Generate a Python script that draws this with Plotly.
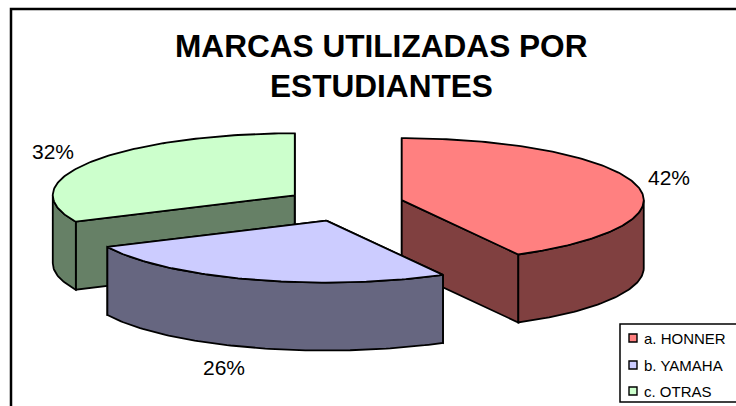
import numpy as np
import plotly.graph_objects as go

CATEGORIES = ["a. HONNER", "b. YAMAHA", "c. OTRAS"]
VALUES = [42, 26, 32]
TOP_COLORS = ["#FF8080", "#CCCCFF", "#CCFFCC"]
SIDE_COLORS = ["#804040", "#666680", "#668066"]
TITLE_LINES = ["MARCAS UTILIZADAS POR", "ESTUDIANTES"]

W, H = 736, 406
CX, CY = 344.6, 204.4      # pie centre in page pixels
RX, RY = 242.0, 62.0       # ellipse radii
DEPTH = 68.0               # height of the pie
EXPLODE_X, EXPLODE_Y = 59.0, 17.0
LABEL_OFFSET = [(33, -7.5), (-28, 20), (-37, -11)]
DRAW_ORDER = [2, 0, 1]
LEGEND_Y = [338, 365, 391]
TITLE_Y = [46, 86]

total = sum(VALUES)
edges = np.concatenate([[0], np.cumsum(VALUES)]) / total * 2 * np.pi


def rim(cx, cy, a):
    return cx + RX * np.sin(a), cy - RY * np.cos(a)


def arc(a0, a1):
    return np.linspace(a0, a1, max(2, int(abs(a1 - a0) * 60)))


fig = go.Figure()
LINE = dict(color="black", width=1.8)


def poly(xs, ys, color):
    fig.add_trace(go.Scatter(
        x=list(xs) + [xs[0]], y=list(ys) + [ys[0]], mode="lines", fill="toself",
        fillcolor=color, line=LINE, hoverinfo="skip", showlegend=False))


centers = []
for i in range(len(VALUES)):
    mid = (edges[i] + edges[i + 1]) / 2
    centers.append((CX + EXPLODE_X * np.sin(mid), CY - EXPLODE_Y * np.cos(mid)))

for i in DRAW_ORDER:
    a0, a1 = edges[i], edges[i + 1]
    cx, cy = centers[i]
    # radial end walls
    for a in (a0, a1):
        px, py = rim(cx, cy, a)
        poly([cx, px, px, cx], [cy, py, py + DEPTH, cy + DEPTH], SIDE_COLORS[i])
    # outer wall, front half only
    lo, hi = max(a0, np.pi / 2), min(a1, 3 * np.pi / 2)
    if hi > lo:
        t = arc(lo, hi)
        x, y = rim(cx, cy, t)
        poly(np.concatenate([x, x[::-1]]), np.concatenate([y, (y + DEPTH)[::-1]]), SIDE_COLORS[i])
    # top face
    t = arc(a0, a1)
    x, y = rim(cx, cy, t)
    poly(np.concatenate([[cx], x]), np.concatenate([[cy], y]), TOP_COLORS[i])

# percentage labels
for i in range(len(VALUES)):
    mid = (edges[i] + edges[i + 1]) / 2
    px, py = rim(*centers[i], mid)
    if np.cos(mid) < 0:
        py += DEPTH
    fig.add_annotation(x=px + LABEL_OFFSET[i][0], y=py + LABEL_OFFSET[i][1],
                       text=f"{round(VALUES[i] / total * 100)}%", showarrow=False,
                       font=dict(family="Liberation Sans", size=21, color="black"))

shapes = [
    dict(type="rect", x0=11, y0=9, x1=745, y1=420, line=dict(color="black", width=2.5), layer="below"),
    dict(type="rect", x0=620, y0=324, x1=745, y1=402, fillcolor="white", line=dict(color="black", width=1.5)),
]
for i, name in enumerate(CATEGORIES):
    shapes.append(dict(type="rect", x0=629, x1=637, y0=LEGEND_Y[i] - 4, y1=LEGEND_Y[i] + 4,
                       fillcolor=TOP_COLORS[i], line=dict(color="black", width=1.4)))
    fig.add_annotation(x=642, y=LEGEND_Y[i], text=name, showarrow=False, xanchor="left",
                       font=dict(family="Liberation Sans", size=15, color="black"))

for line, y in zip(TITLE_LINES, TITLE_Y):
    fig.add_annotation(x=381, y=y, text=f"<b>{line}</b>", showarrow=False,
                       font=dict(family="Liberation Sans", size=31.6, color="black"))
fig.update_layout(
    width=W, height=H, margin=dict(l=0, r=0, t=0, b=0), autosize=False,
    paper_bgcolor="white", plot_bgcolor="white", showlegend=False, shapes=shapes,
    xaxis=dict(range=[0, W], visible=False, fixedrange=True),
    yaxis=dict(range=[H, 0], visible=False, fixedrange=True),
)
fig.write_html("out.html", config=dict(displayModeBar=False),
               post_script="document.body.style.margin='0';document.body.style.overflow='hidden';")
